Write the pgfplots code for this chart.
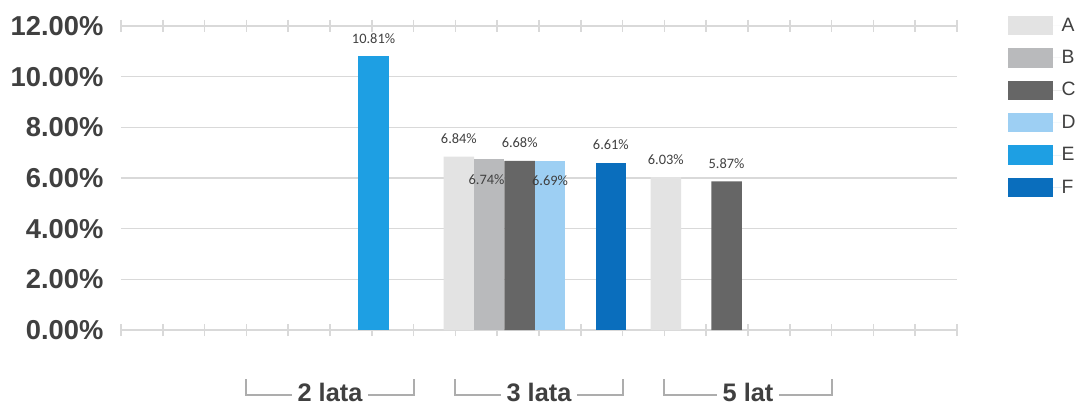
\documentclass[border=0pt]{standalone}
\usepackage{pgfplots}
\pgfplotsset{compat=1.18}
\usepackage{fontspec}
\setmainfont{Liberation Sans}
\newfontfamily\lblfont{Carlito}
\definecolor{cA}{HTML}{E3E3E3}
\definecolor{cB}{HTML}{B9BABC}
\definecolor{cC}{HTML}{666666}
\definecolor{cD}{HTML}{9DCFF3}
\definecolor{cE}{HTML}{1E9FE3}
\definecolor{cF}{HTML}{0A6EBD}
\definecolor{txt}{HTML}{404040}
\definecolor{gridc}{HTML}{D9D9D9}
\definecolor{brk}{HTML}{ADADAD}
\tikzset{
  brack/.style={brk, line width=1.5pt},
  grplbl/.style={anchor=base, fill=white, inner xsep=4pt, inner ysep=0pt, text depth=0pt, font=\fontsize{19}{19}\selectfont\bfseries, text=txt},
}
\begin{document}
\begin{tikzpicture}
\begin{axis}[
  scale only axis,
  width=627pt, height=228pt,
  xmin=-1, xmax=3.04,
  ymin=0, ymax=12,
  ybar=0pt, bar width=22.8pt,
  axis line style={draw=none},
  ytick={0,2,...,12},
  ymajorgrids,
  grid style={gridc, line width=1.1pt},
  ytick style={draw=none},
  yticklabel={\pgfmathprintnumber[fixed,fixed zerofill,precision=2]{\tick}\%},
  yticklabel style={font=\fontsize{20.5}{20.5}\selectfont\bfseries, text=txt, inner sep=0pt, xshift=-8.5pt},
  /pgf/number format/assume math mode=true,
  xtick={-1,-0.798,-0.596,-0.394,-0.192,0.01,0.212,0.414,0.616,0.818,1.02,1.222,1.424,1.626,1.828,2.03,2.232,2.434,2.636,2.838,3.04},
  xticklabels={},
  xtick style={draw=gridc, line width=1.1pt},
  major tick length=9pt,
  tick align=center,
  clip=false,
  nodes near coords={\pgfmathprintnumber[fixed,fixed zerofill,precision=2]{\pgfplotspointmeta}\%},
  every node near coord/.append style={font=\lblfont\fontsize{10.8}{10.8}\selectfont, text=txt, yshift=6pt},
  legend style={at={(1.061,1.056)}, anchor=north west, draw=none, fill=none, inner sep=0pt,
     row sep=0pt, font=\fontsize{14.5}{14.5}\selectfont, text=txt,
     nodes={inner sep=0pt, minimum height=24.3pt}},
  legend cell align=left,
  legend image code/.code={\fill[#1] (0pt,-7.3pt) rectangle (33.5pt,7.3pt); \path (33.5pt,0) -- (40pt,0);},
]
\draw[gridc, line width=1.1pt] (axis cs:-1,0) -- (axis cs:3.04,0);
\addplot[fill=cA, draw=none] coordinates {(1,6.84) (2,6.03)};
\addplot[fill=cB, draw=none, every node near coord/.append style={anchor=north, yshift=-14pt, xshift=-2pt}] coordinates {(1,6.74)};
\addplot[fill=cC, draw=none] coordinates {(1,6.68) (2,5.87)};
\addplot[fill=cD, draw=none, every node near coord/.append style={anchor=north, yshift=-14pt}] coordinates {(1,6.69)};
\addplot[fill=cE, draw=none] coordinates {(0,10.81)};
\addplot[fill=cF, draw=none] coordinates {(1,6.61)};
\legend{A,B,C,D,E,F}
\draw[brack] ([yshift=-37pt]axis cs:-0.394,0) -- ([yshift=-48.5pt]axis cs:-0.394,0) -- ([yshift=-48.5pt]axis cs:0.414,0) -- ([yshift=-37pt]axis cs:0.414,0);
\node[grplbl] at ([yshift=-53.8pt]axis cs:0.01,0) {2 lata};
\draw[brack] ([yshift=-37pt]axis cs:0.616,0) -- ([yshift=-48.5pt]axis cs:0.616,0) -- ([yshift=-48.5pt]axis cs:1.424,0) -- ([yshift=-37pt]axis cs:1.424,0);
\node[grplbl] at ([yshift=-53.8pt]axis cs:1.02,0) {3 lata};
\draw[brack] ([yshift=-37pt]axis cs:1.626,0) -- ([yshift=-48.5pt]axis cs:1.626,0) -- ([yshift=-48.5pt]axis cs:2.434,0) -- ([yshift=-37pt]axis cs:2.434,0);
\node[grplbl] at ([yshift=-53.8pt]axis cs:2.03,0) {5 lat};
\end{axis}
\pgfresetboundingbox
\path[use as bounding box] (-90.75pt,-57.75pt) rectangle (717pt,247.5pt);
\end{tikzpicture}
\end{document}
